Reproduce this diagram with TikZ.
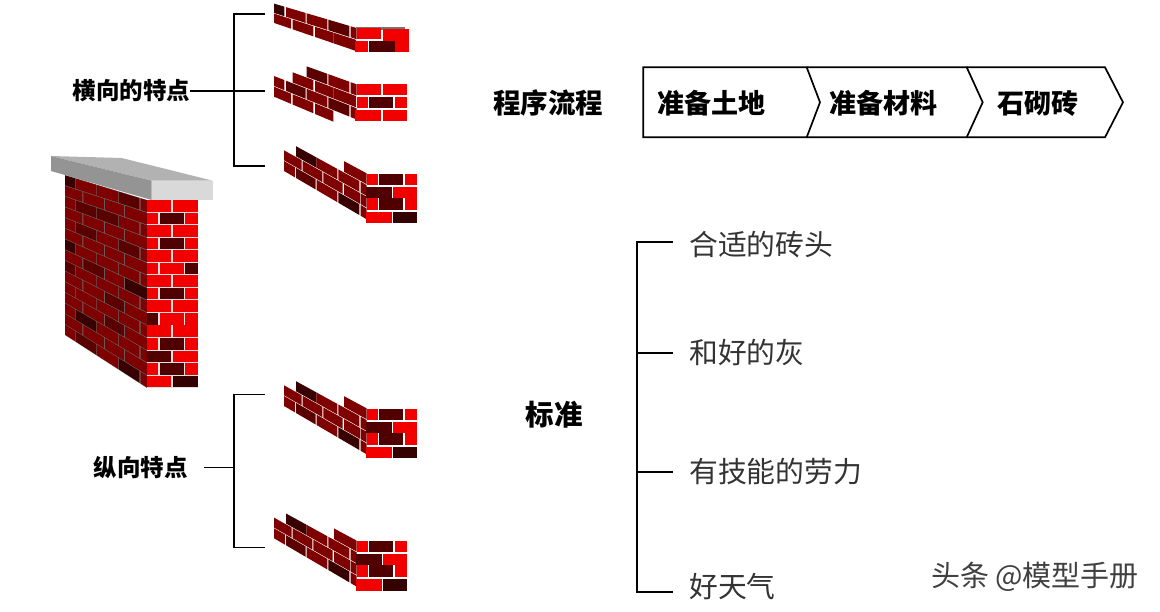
\documentclass[tikz,border=0pt]{standalone}
\usepackage{fontspec}
\setmainfont{Noto Sans CJK SC}
\usepackage{xcolor}
\definecolor{brickr}{HTML}{F20000}
\definecolor{brickm}{HTML}{7F0000}
\definecolor{brickd}{HTML}{5A0000}
\definecolor{brickv}{HTML}{380000}
\definecolor{frontd}{HTML}{500000}
\definecolor{frontv}{HTML}{340000}
\usetikzlibrary{positioning}

% side face: left x, right x, top at left, row height at left, top at right, row height at right
\newcommand{\setside}[6]{\def\sxa{#1}\def\sxb{#2}\def\stl{#3}\def\shl{#4}\def\str{#5}\def\shr{#6}}
\newcommand{\sidebrick}[4]{%
	\pgfmathsetmacro{\ua}{(#1-\sxa)/(\sxb-\sxa)}
	\pgfmathsetmacro{\ub}{(#2-\sxa)/(\sxb-\sxa)}
	\pgfmathsetmacro{\ta}{\stl+\ua*(\str-\stl)}
	\pgfmathsetmacro{\tb}{\stl+\ub*(\str-\stl)}
	\pgfmathsetmacro{\ha}{\shl+\ua*(\shr-\shl)}
	\pgfmathsetmacro{\hb}{\shl+\ub*(\shr-\shl)}
	\fill[#4] (#1,\ta+#3*\ha+0.03*\ha) -- (#2,\tb+#3*\hb+0.03*\hb)
		-- (#2,\tb+#3*\hb+0.96*\hb) -- (#1,\ta+#3*\ha+0.96*\ha) -- cycle;
}
\newcommand{\frontbrick}[5]{\fill[#5] (#1,#3) rectangle (#2,#4);}
\newcommand{\brickgroup}{%
	\setside{284}{366.7}{139.3}{10.7}{184.7}{11.7}
	\sidebrick{344}{366.7}{-1}{brickm}
	\sidebrick{296}{316.7}{0}{brickv}
	\sidebrick{316.7}{337.3}{0}{brickm}
	\sidebrick{338.3}{359.3}{0}{brickm}
	\sidebrick{360.7}{366.7}{0}{brickm}
	\sidebrick{284}{301.7}{1}{brickm}
	\sidebrick{302.7}{322.3}{1}{brickm}
	\sidebrick{323.3}{342.7}{1}{brickm}
	\sidebrick{344}{360}{1}{brickm}
	\sidebrick{360.7}{366.7}{1}{brickm}
	\sidebrick{284}{295}{2}{brickm}
	\sidebrick{296}{315.7}{2}{brickd}
	\sidebrick{316.7}{337.3}{2}{brickm}
	\sidebrick{338.3}{359.3}{2}{brickv}
	\sidebrick{360.7}{366.7}{2}{brickm}
	\frontbrick{367.3}{378.3}{174}{185}{brickr}
	\frontbrick{379}{403}{174}{185}{frontd}
	\frontbrick{405}{417}{174}{185}{brickr}
	\frontbrick{366}{391.7}{186.7}{198}{frontd}
	\frontbrick{392.7}{417}{186.7}{198}{brickr}
	\frontbrick{367}{378.3}{198}{210}{brickr}
	\frontbrick{379}{403}{198}{210}{frontd}
	\frontbrick{405}{417}{198}{210}{brickr}
	\frontbrick{366}{391.7}{211.7}{223.3}{brickr}
	\frontbrick{392.7}{417}{211.7}{223.3}{frontv}
}

\begin{document}
\begin{tikzpicture}[
	x=1pt, y=-1pt,
	line/.style={draw=black, line width=1.5pt},
	chevron/.style={draw=black, line width=1.7pt, line join=miter},
	headtext/.style={font=\bfseries\fontsize{23.5}{23.5}\selectfont, inner sep=0pt},
	steptext/.style={font=\bfseries\fontsize{27}{27}\selectfont, inner sep=0pt},
	itemtext/.style={font=\fontsize{28.8}{28.8}\selectfont, text=black!80, inner sep=0pt, anchor=west},
	marktext/.style={font=\fontsize{29}{29}\selectfont, text=black!75, inner sep=0pt}
	]
	\useasboundingbox (0,0) rectangle (1160,612);

	% wall
	\fill[black!60] (65,175) -- (147,200) -- (147,388) -- (65,335) -- cycle;
	\setside{65}{147}{175}{10.67}{200}{12.53}
	\foreach \row/\ca/\cb/\cc/\cd/\ce in {
		0/brickv/brickm/brickm/brickd/brickm, 2/brickm/brickd/brickd/brickm/brickm,
		4/brickm/brickd/brickm/brickd/brickm, 6/brickv/brickm/brickm/brickm/brickm,
		8/brickd/brickm/brickm/brickm/brickm, 10/brickm/brickm/brickm/brickm/brickm,
		12/brickm/brickv/brickm/brickm/brickm, 14/brickm/brickd/brickm/brickv/brickm} {
		\sidebrick{65}{75}{\row}{\ca}
		\sidebrick{75.7}{96}{\row}{\cb}
		\sidebrick{96.7}{118.3}{\row}{\cc}
		\sidebrick{119}{139.3}{\row}{\cd}
		\sidebrick{140.7}{147}{\row}{\ce}
	}
	\foreach \row/\ca/\cb/\cc/\cd in {
		1/brickm/brickm/brickm/brickm, 3/brickm/brickm/brickm/brickm,
		5/brickm/brickm/brickm/brickm, 7/brickm/brickd/brickm/brickv,
		9/brickm/brickm/brickd/brickm, 11/brickm/brickm/brickd/brickm,
		13/brickm/brickm/brickm/brickm} {
		\sidebrick{65}{82.3}{\row}{\ca}
		\sidebrick{83.3}{104}{\row}{\cb}
		\sidebrick{105}{124}{\row}{\cc}
		\sidebrick{125}{147}{\row}{\cd}
	}
	\fill[black!12] (147,200) rectangle (198,388);
	\foreach \row/\ca/\cb in {0/brickr/brickr, 2/brickr/brickr, 4/brickr/brickr, 6/brickr/brickr,
		8/brickr/brickr, 10/brickr/brickr, 12/frontd/brickr, 14/brickr/frontv} {
		\frontbrick{147}{171}{200+12.55*\row}{200+12.55*\row+11.6}{\ca}
		\frontbrick{173.3}{198}{200+12.55*\row}{200+12.55*\row+11.6}{\cb}
	}
	\foreach \row/\ca/\cb/\cc in {1/brickr/frontd/brickr, 3/brickr/frontd/brickr, 5/brickr/brickr/frontd,
		7/brickr/frontd/brickr, 9/frontd/brickr/brickr, 11/brickr/frontd/brickr, 13/brickr/frontd/brickr} {
		\frontbrick{147}{158}{200+12.55*\row}{200+12.55*\row+11.6}{\ca}
		\frontbrick{160}{184.3}{200+12.55*\row}{200+12.55*\row+11.6}{\cb}
		\frontbrick{185}{198}{200+12.55*\row}{200+12.55*\row+11.6}{\cc}
	}
	% cap
	\fill[black!30] (51,156) -- (121.7,158) -- (212.7,180.7) -- (151.7,180.7) -- cycle;
	\fill[black!42] (51,156) -- (151.7,180.7) -- (151.7,200) -- (51,171) -- cycle;
	\fill[black!15] (151.7,180.7) rectangle (212.7,200);

	% first group
	\setside{274}{356.7}{3.3}{10}{27.7}{12}
	\sidebrick{274}{284.3}{0}{brickv}
	\sidebrick{286}{305.7}{0}{brickm}
	\sidebrick{306.7}{327.3}{0}{brickm}
	\sidebrick{328.3}{349.3}{0}{brickd}
	\sidebrick{350.7}{356.7}{0}{brickm}
	\sidebrick{274}{291}{1}{brickm}
	\sidebrick{292.7}{313.3}{1}{brickm}
	\sidebrick{315}{333.3}{1}{brickm}
	\sidebrick{333.3}{356}{1}{brickm}
	\fill[black!55] (356,27.5) rectangle (405,30);
	\frontbrick{357}{381}{28.3}{39.3}{brickr}
	\frontbrick{383}{409}{29}{41}{brickr}
	\frontbrick{355}{368.3}{40.7}{51.7}{brickr}
	\frontbrick{369}{395}{40.7}{51.7}{frontd}
	\frontbrick{395}{409}{29}{51.7}{brickr}

	% second group
	\setside{274}{356.7}{54.3}{10.7}{84}{12}
	\sidebrick{306.7}{327.3}{0}{brickd}
	\sidebrick{328.3}{349.3}{0}{brickm}
	\sidebrick{350.7}{356.7}{0}{brickm}
	\sidebrick{292.7}{313.3}{1}{brickm}
	\sidebrick{315}{333.3}{1}{brickm}
	\sidebrick{333.3}{356}{1}{brickm}
	\sidebrick{274}{284.3}{2}{brickm}
	\sidebrick{286}{305.7}{2}{brickd}
	\sidebrick{306.7}{327.3}{2}{brickm}
	\sidebrick{328.3}{349.3}{2}{brickd}
	\sidebrick{350.7}{356.7}{2}{brickm}
	\sidebrick{274}{291}{3}{brickm}
	\sidebrick{292.7}{313.3}{3}{brickm}
	\sidebrick{315}{333.3}{3}{brickm}
	\frontbrick{356.7}{381}{84}{95}{brickr}
	\frontbrick{382.7}{407}{84}{95}{brickr}
	\frontbrick{357.3}{368.3}{97.3}{108}{brickr}
	\frontbrick{369}{393}{97.3}{108}{frontd}
	\frontbrick{395}{407}{97.3}{108}{brickr}
	\frontbrick{355}{381}{110}{120.7}{brickr}
	\frontbrick{382.7}{407}{110}{120.7}{brickr}

	% other groups
	\brickgroup
	\begin{scope}[shift={(0,235)}]
		\brickgroup
	\end{scope}
	\begin{scope}[shift={(-10,367.3)}]
		\brickgroup
	\end{scope}

	% labels
	\node[headtext] (across) at (131.5,91) {横向的特点};
	\node[headtext] (along) at (140.5,468) {纵向特点};
	\node[steptext, font=\bfseries\fontsize{27.5}{27.5}\selectfont] (flow) at (548,103) {程序流程};
	\node[steptext, font=\bfseries\fontsize{28.5}{28.5}\selectfont] (standard) at (554,415) {标准};

	% brackets
	\coordinate (acrossM) at (234,91);
	\coordinate (acrossT) at (234,14);
	\coordinate (acrossB) at (234,166);
	\coordinate (alongM) at (234,467.5);
	\coordinate (alongL) at (204,467.5);
	\coordinate (alongT) at (234,394.5);
	\coordinate (alongB) at (234,547.5);
	\draw[line] (across.east) -- (acrossM);
	\draw[line] (265,14) -- (acrossT) -- (acrossB) -- (265,166);
	\draw[line] (acrossM) -- (265,91);
	\draw[line] (alongL) -- (alongM);
	\draw[line] (265,394.5) -- (alongT) -- (alongB) -- (265,547.5);

	% process
	\draw[chevron] (643.3,67.3) -- (806.7,67.3) -- (820,102.3) -- (806.7,137.3) -- (643.3,137.3) -- cycle;
	\draw[chevron] (806.7,67.3) -- (966.7,67.3) -- (982.7,102.3) -- (966.7,137.3) -- (806.7,137.3);
	\draw[chevron] (966.7,67.3) -- (1105,67.3) -- (1123,102.3) -- (1105,137.3) -- (966.7,137.3);
	\node[steptext] (land) at (711,103) {准备土地};
	\node[steptext] (stuff) at (883,103) {准备材料};
	\node[steptext] (laying) at (1038,103) {石砌砖};

	% standards
	\node[itemtext] (item1) at (689,245) {合适的砖头};
	\node[itemtext] (item2) at (689,353) {和好的灰};
	\node[itemtext] (item3) at (689,472) {有技能的劳力};
	\node[itemtext] (item4) at (689,587) {好天气};
	\coordinate (stemT) at (637,242);
	\coordinate (stemB) at (637,592);
	\draw[line] (673,242) -- (stemT) -- (stemB) -- (673,592);
	\draw[line] (637,353) -- (673,353);
	\draw[line] (637,472) -- (673,472);

	\node[marktext] (mark) at (1035,577) {头条 @模型手册};
\end{tikzpicture}
\end{document}
